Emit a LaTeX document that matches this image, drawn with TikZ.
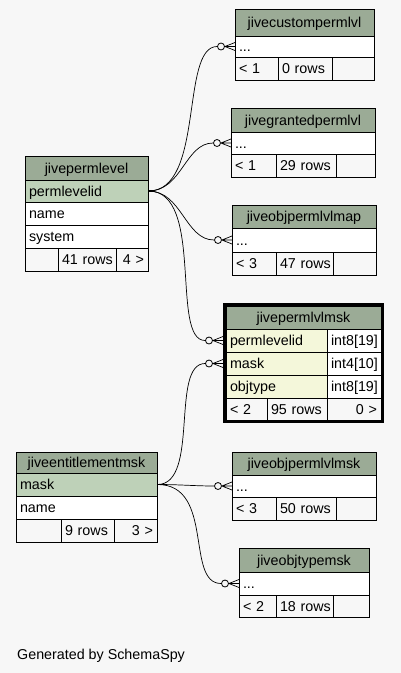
\documentclass[tikz,border=0pt]{standalone}
\usepackage{fontspec}
\setmainfont{Liberation Sans}
\definecolor{bg}{HTML}{F7F7F7}
\definecolor{hdr}{HTML}{9BAB96}
\definecolor{pk}{HTML}{BED1B8}
\definecolor{idx}{HTML}{F4F7DA}
\tikzset{
  cell/.style={draw=black, line width=0.8pt, inner xsep=4pt, inner ysep=0pt,
    text height=11pt, text depth=1pt, font=\fontsize{14.3}{16}\selectfont, anchor=center},
  odot/.style={circle, draw=black, fill=bg, line width=0.8pt, minimum size=7pt, inner sep=0pt},
  rel/.style={draw=black, line width=0.7pt},
  pbar/.style={draw=black, line width=1.8pt},
}
\hfuzz=100pt
\newcommand\mycell[8]{%
  \pgfmathsetmacro\tcH{#5-#3}%
  \pgfmathsetmacro\tcX{(#2+#4)/2}%
  \pgfmathsetmacro\tcY{(#3+#5)/2}%
  \pgfmathsetmacro\tcW{#4-#2-8}%
  \node[cell, fill=#6, align=#7, minimum height=\tcH pt, text width=\tcW pt] (#1) at (\tcX,\tcY) {\mbox{#8}};}
\newcommand\crowfoot[3]{%
  \pgfmathsetmacro\cfX{#2-14}%
  \node[odot] (#1) at (\cfX,#3) {};
  \draw[rel] (#1.east) -- (#2,#3-4) (#1.east) -- (#2,#3) (#1.east) -- (#2,#3+4);}
\begin{document}
\begin{tikzpicture}[x=1pt,y=-1pt]
\fill[bg] (0,0) rectangle (401,673);
\useasboundingbox (0,0) rectangle (401,673);

% jivecustompermlvl
\mycell{t1h}{235}{9}{374}{36}{hdr}{center}{jivecustompermlvl}
\mycell{t1r1}{235}{36}{374}{57}{white}{left}{...}
\mycell{t1f1}{235}{57}{278}{80}{bg}{left}{\textless{} 1}
\mycell{t1f2}{278}{57}{332}{80}{bg}{left}{0 rows}
\mycell{t1f3}{332}{57}{374}{80}{bg}{left}{}

% jivegrantedpermlvl
\mycell{t2h}{231}{108}{375}{132}{hdr}{center}{jivegrantedpermlvl}
\mycell{t2r1}{231}{132}{375}{154}{white}{left}{...}
\mycell{t2f1}{231}{154}{276}{177}{bg}{left}{\textless{} 1}
\mycell{t2f2}{276}{154}{336}{177}{bg}{left}{29 rows}
\mycell{t2f3}{336}{154}{375}{177}{bg}{left}{}

% jiveobjpermlvlmap
\mycell{t3h}{232}{205}{376}{228}{hdr}{center}{jiveobjpermlvlmap}
\mycell{t3r1}{232}{228}{376}{252}{white}{left}{...}
\mycell{t3f1}{232}{252}{276}{275}{bg}{left}{\textless{} 3}
\mycell{t3f2}{276}{252}{333}{275}{bg}{left}{47 rows}
\mycell{t3f3}{333}{252}{376}{275}{bg}{left}{}

% jivepermlvlmsk
\mycell{t4h}{226}{306}{381}{329}{hdr}{center}{jivepermlvlmsk}
\mycell{t4r1}{226}{329}{327}{352}{idx}{left}{permlevelid}
\mycell{t4r1t}{327}{329}{381}{352}{white}{left}{int8[19]}
\mycell{t4r2}{226}{352}{327}{375}{idx}{left}{mask}
\mycell{t4r2t}{327}{352}{381}{375}{white}{left}{int4[10]}
\mycell{t4r3}{226}{375}{327}{398}{idx}{left}{objtype}
\mycell{t4r3t}{327}{375}{381}{398}{white}{left}{int8[19]}
\mycell{t4f1}{226}{398}{267}{420}{bg}{left}{\textless{} 2}
\mycell{t4f2}{267}{398}{327}{420}{bg}{left}{95 rows}
\mycell{t4f3}{327}{398}{381}{420}{bg}{right}{0 \textgreater}
\draw[line width=3pt] (224.5,304.5) rectangle (382.5,421.5);

% jivepermlevel
\mycell{t5h}{25}{156}{148}{180}{hdr}{center}{jivepermlevel}
\mycell{t5r1}{25}{180}{148}{202}{pk}{left}{permlevelid}
\mycell{t5r2}{25}{202}{148}{225}{white}{left}{name}
\mycell{t5r3}{25}{225}{148}{248}{white}{left}{system}
\mycell{t5f1}{25}{248}{58}{271}{bg}{left}{}
\mycell{t5f2}{58}{248}{116}{271}{bg}{left}{41 rows}
\mycell{t5f3}{116}{248}{148}{271}{bg}{right}{4 \textgreater}

% jiveentitlementmsk
\mycell{t6h}{16}{452}{157}{473}{hdr}{center}{jiveentitlementmsk}
\mycell{t6r1}{16}{473}{157}{496}{pk}{left}{mask}
\mycell{t6r2}{16}{496}{157}{519}{white}{left}{name}
\mycell{t6f1}{16}{519}{61}{542}{bg}{left}{}
\mycell{t6f2}{61}{519}{114}{542}{bg}{left}{9 rows}
\mycell{t6f3}{114}{519}{157}{542}{bg}{right}{3 \textgreater}

% jiveobjpermlvlmsk
\mycell{t7h}{232}{452}{376}{475}{hdr}{center}{jiveobjpermlvlmsk}
\mycell{t7r1}{232}{475}{376}{497}{white}{left}{...}
\mycell{t7f1}{232}{497}{276}{520}{bg}{left}{\textless{} 3}
\mycell{t7f2}{276}{497}{336}{520}{bg}{left}{50 rows}
\mycell{t7f3}{336}{497}{376}{520}{bg}{left}{}

% jiveobjtypemsk
\mycell{t8h}{239}{548}{369}{572}{hdr}{center}{jiveobjtypemsk}
\mycell{t8r1}{239}{572}{369}{595}{white}{left}{...}
\mycell{t8f1}{239}{595}{276}{617}{bg}{left}{\textless{} 2}
\mycell{t8f2}{276}{595}{333}{617}{bg}{left}{18 rows}
\mycell{t8f3}{333}{595}{369}{617}{bg}{left}{}

% relationship ends
\crowfoot{o1}{235}{46.5}
\crowfoot{o2}{231}{143}
\crowfoot{o3}{232}{240}
\crowfoot{o4}{223}{340.5}
\crowfoot{o5}{223}{363.5}
\crowfoot{o6}{232}{486}
\crowfoot{o7}{239}{583.5}

% connectors
\draw[rel] (t5r1.east) .. controls (205,191) and (180,46.5) .. (o1.west);
\draw[rel] (t5r1.east) .. controls (182,191) and (185,143) .. (o2.west);
\draw[rel] (t5r1.east) .. controls (182,191) and (185,240) .. (o3.west);
\draw[rel] (t5r1.east) .. controls (205,191) and (170,340.5) .. (o4.west);
\draw[rel] (t6r1.east) .. controls (200,484.5) and (170,363.5) .. (o5.west);
\draw[rel] (t6r1.east) .. controls (180,484.5) and (195,486) .. (o6.west);
\draw[rel] (t6r1.east) .. controls (215,484.5) and (185,583.5) .. (o7.west);
\draw[pbar] (t5r1.east) -- ++(6,0);
\draw[pbar] (t6r1.east) -- ++(6,0);

\node[font=\fontsize{14.3}{16}\selectfont, anchor=base west, inner sep=0pt] (gen) at (17,659) {Generated by SchemaSpy};
\end{tikzpicture}
\end{document}
